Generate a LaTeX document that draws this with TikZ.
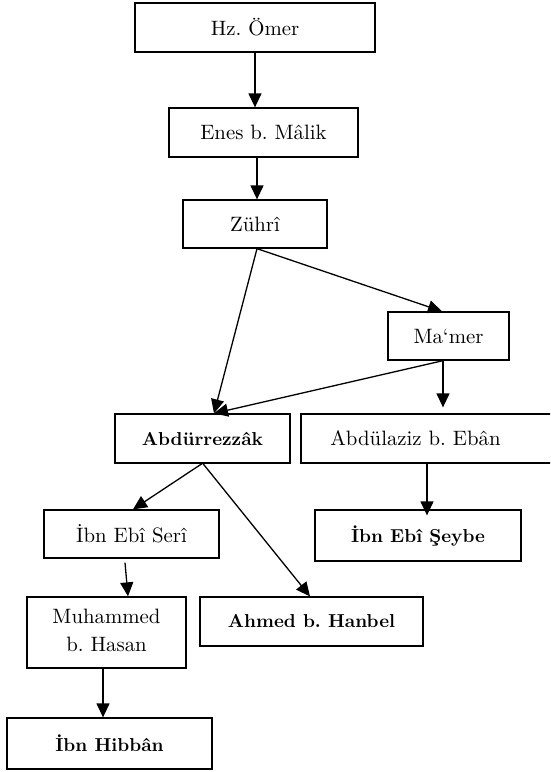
\documentclass[tikz,border=0pt]{standalone}
\usetikzlibrary{arrows.meta}
\frenchspacing
\newcommand{\rt}[1]{\scalebox{2.08}{#1}}
\newcommand{\bt}[1]{\scalebox{1.87}{\bfseries #1}}
\begin{document}
\begin{tikzpicture}[x=1pt,y=-1pt,
  box/.style={draw,line width=1.3pt,rectangle,inner sep=0pt,align=center},
  arr/.style={line width=1.3pt,-{Triangle[length=14pt,width=13pt]}}]
\useasboundingbox (0,0) rectangle (550,772);
\begin{scope}
\clip (0,0) rectangle (550,772);
\node[box,line width=2pt,minimum width=240pt,minimum height=49pt] (omer) at (255,27.5) {\rt{Hz. Ömer}};
\node[box,minimum width=189pt,minimum height=49pt] (enes) at (263.5,132.5) {\rt{Enes b. Mâlik}};
\node[box,minimum width=144pt,minimum height=48pt] (zuhri) at (255,224) {\rt{Zührî}};
\node[box,minimum width=121pt,minimum height=48pt] (mamer) at (448.5,336) {\rt{Ma‘mer}};
\node[box,minimum width=175pt,minimum height=49pt] (abdur) at (202.5,438.5) {\bt{Abdürrezzâk}};
\node[box,minimum width=259pt,minimum height=49pt,text width=240pt] (abdul) at (430.5,438.5) {\hspace*{-30pt}\rt{Abdülaziz b. Ebân}};
\node[box,minimum width=175pt,minimum height=48pt] (seri) at (131.5,534) {\rt{İbn Ebî Serî}};
\node[box,minimum width=206pt,minimum height=51pt] (seybe) at (418,535.5) {\bt{İbn Ebî Şeybe}};
\node[box,minimum width=159pt,minimum height=71pt] (muh) at (106.5,632.5) {\rt{\begin{tabular}{@{}c@{}}Muhammed\\[1pt]b. Hasan\end{tabular}}};
\node[box,minimum width=223pt,minimum height=49pt] (ahmed) at (311.5,621.5) {\bt{Ahmed b. Hanbel}};
\node[box,minimum width=205pt,minimum height=51pt] (hibban) at (109.5,743.5) {\bt{İbn Hibbân}};
\end{scope}
\draw[arr] (omer.south) -- ([xshift=-8.5pt]enes.north);
\draw[arr] ([xshift=-6.5pt]enes.south) -- ([xshift=2pt]zuhri.north);
\draw[arr] ([xshift=2pt]zuhri.south) -- ([xshift=11.5pt]abdur.north);
\draw[arr] ([xshift=2pt]zuhri.south) -- ([xshift=-6.5pt]mamer.north);
\draw[arr] ([xshift=-5.5pt]mamer.south) -- ([xshift=11.5pt]abdur.north);
\draw[arr] ([xshift=-5.5pt]mamer.south) -- ([xshift=12.5pt,yshift=6pt]abdul.north);
\draw[arr] ([xshift=-0.5pt]abdur.south) -- ([xshift=1.5pt]seri.north);
\draw[arr] ([xshift=0.5pt]abdur.south) -- ([xshift=-1.5pt]ahmed.north);
\draw[arr] ([xshift=-3.5pt]abdul.south) -- ([xshift=9pt,yshift=-6pt]seybe.north);
\draw[arr] ([xshift=-6.5pt,yshift=-4pt]seri.south) -- ([xshift=21.5pt]muh.north);
\draw[arr] ([xshift=-3.5pt]muh.south) -- ([xshift=-6.5pt]hibban.north);
\end{tikzpicture}
\end{document}
